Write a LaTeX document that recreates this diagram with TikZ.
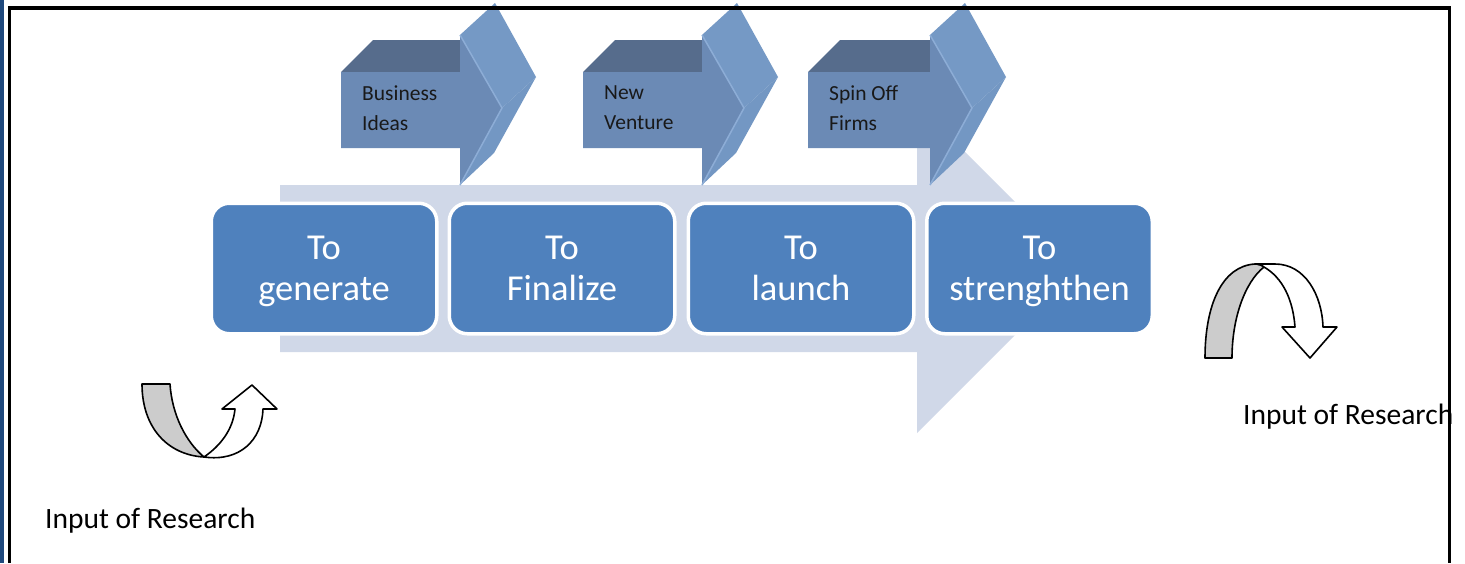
\documentclass[tikz,border=0pt]{standalone}
\usepackage{fontspec}
\setmainfont{Carlito}
\definecolor{lightarrow}{HTML}{D0D8E8}
\definecolor{boxblue}{HTML}{4F81BD}
\definecolor{chevtopc}{HTML}{566C8C}
\definecolor{chevfrontc}{HTML}{6B8AB5}
\definecolor{chevsidec}{HTML}{7599C5}
\definecolor{chevside2c}{HTML}{7397C3}
\definecolor{chevedgec}{HTML}{8DADD6}
\definecolor{borderblue}{HTML}{1F497D}
\definecolor{uturngray}{HTML}{CCCCCC}
\newcommand{\bstrut}{\rule[-6.6pt]{0pt}{36.6pt}}
\tikzset{
  stage/.style={rounded corners=18pt, fill=boxblue, draw=white, line width=3.5pt,
    text=white, font=\fontsize{36.5}{41}\selectfont, align=center,
    minimum width=225.5pt, minimum height=130.5pt, inner sep=0pt},
  chevtext/.style={font=\fontsize{21.5}{30}\selectfont, text=black!90, align=left, inner sep=0pt, anchor=west},
  inputtext/.style={font=\fontsize{29.5}{34}\selectfont, text=black, inner sep=0pt, anchor=west},
  uturn/.style={draw=black, line width=1.6pt, line join=round},
}
\newcommand{\mychevron}[4]{%
  \fill[chevtopc] (#1,72) -- ({#1+32},40) -- (#2,40) -- (#2,72) -- cycle;
  \fill[chevsidec] (#2,35) -- ({#2+35},3) -- ({#2+76},77) -- ({#2+42},108) -- cycle;
  \fill[chevside2c] ({#2+42},108) -- ({#2+76},77) -- ({#2+34},153) -- (#2,185) -- cycle;
  \fill[chevfrontc] (#1,72) -- (#2,72) -- (#2,35) -- ({#2+42},108) -- (#2,185) -- (#2,148) -- (#1,148) -- cycle;
  \draw[chevedgec, line width=1.5pt] (#2,35) -- ({#2+42},108) -- (#2,185);
  \node[chevtext] (#3) at ({#1+21},108) {#4};
}
\begin{document}
\begin{tikzpicture}[x=1pt,y=-1pt]
\useasboundingbox (0,0) rectangle (1465,563);
\fill[white] (0,0) rectangle (1465,563);

% big light arrow
\fill[lightarrow] (280,185) -- (917,185) -- (917,104) -- (1081.5,268.5) -- (917,433) -- (917,352) -- (280,352) -- cycle;

% chevrons
\mychevron{341}{460}{chevA}{Business\\Ideas}
\mychevron{583}{702}{chevB}{New\\Venture}
\mychevron{808}{930}{chevC}{Spin Off\\Firms}

% stage boxes
\node[stage] (gen) at (324,268.5) {\bstrut To\\\bstrut generate};
\node[stage] (fin) at (562,268.5) {\bstrut To\\\bstrut Finalize};
\node[stage] (lau) at (801,268.5) {\bstrut To\\\bstrut launch};
\node[stage] (str) at (1039.5,268.5) {\bstrut To\\\bstrut strenghthen};

% left U-turn arrow
\filldraw[uturn, fill=uturngray] (142,384) -- (170,384) .. controls (172,415) and (186,442) .. (204,457)
   .. controls (168,455) and (142,428) .. (142,384) -- cycle;
\filldraw[uturn, fill=white] (204,457) .. controls (220,446) and (233,430) .. (235,409) -- (222,409) -- (252,385)
   -- (277,409) -- (263,409) .. controls (262,440) and (240,462) .. (204,457) -- cycle;

% right U-turn arrow
\filldraw[uturn, fill=uturngray] (1205,358) -- (1232,358) .. controls (1232,318) and (1245,282) .. (1264,267)
   .. controls (1262,265) and (1258,264) .. (1255,264) .. controls (1222,266) and (1205,305) .. (1205,358) -- cycle;
\filldraw[uturn, fill=white] (1255,264) -- (1275,264) .. controls (1305,264) and (1322,295) .. (1323,327)
   -- (1337,327) -- (1310,358) -- (1282,327) -- (1295,327) .. controls (1293,300) and (1283,278) .. (1264,267)
   .. controls (1262,265) and (1258,264) .. (1255,264) -- cycle;

% labels
\node[inputtext] (inR) at (1243,417) {Input of Research};
\node[inputtext] (inL) at (45,521) {Input of Research};

% frame
\fill[borderblue] (0,0) rectangle (4,563);
\draw[line width=3.5pt, line join=miter] (9.5,563) -- (9.5,8) -- (1449.5,8) -- (1449.5,563);
\end{tikzpicture}
\end{document}
